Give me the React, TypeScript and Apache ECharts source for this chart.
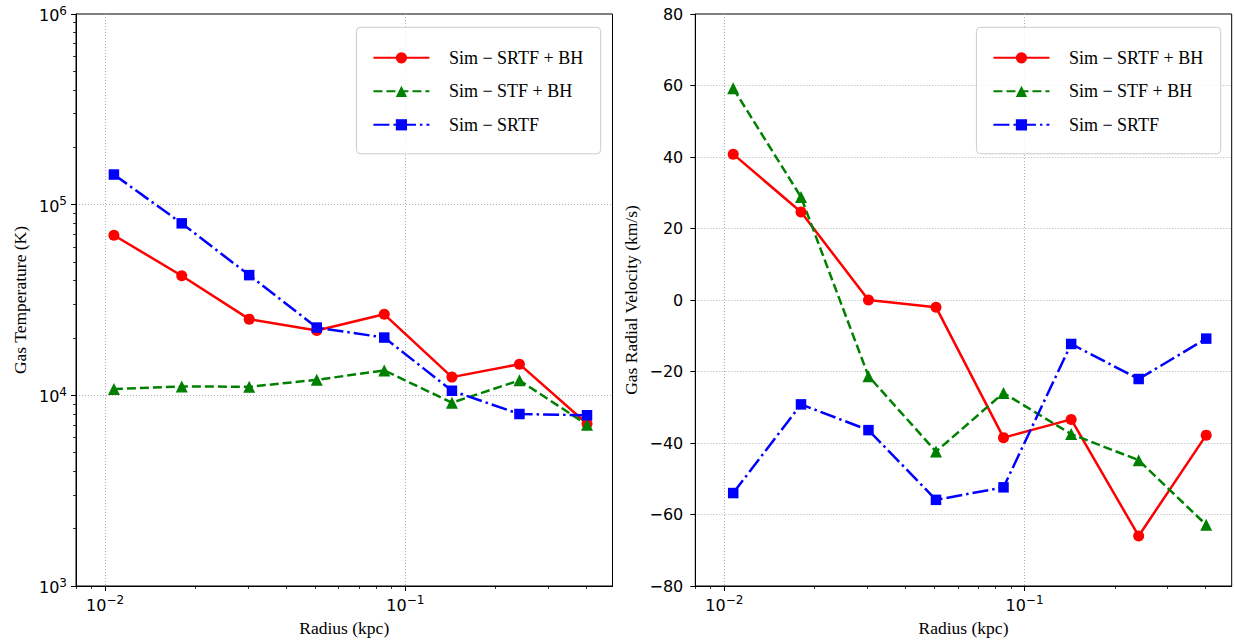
import React, { useEffect, useRef } from 'react';
import * as echarts from 'echarts';

// ---- data ----
const radius = [0.0107, 0.018, 0.0302, 0.0507, 0.0851, 0.143, 0.24, 0.403];
const tempSRTFBH = [69100, 42400, 25100, 21900, 26600, 12460, 14570, 7100];
const tempSTFBH = [10790, 11140, 11090, 12060, 13510, 9150, 11980, 7020];
const tempSRTF = [143900, 79800, 42700, 22670, 20090, 10570, 7980, 7860];
const velSRTFBH = [40.8, 24.6, 0, -2.0, -38.5, -33.4, -66.0, -37.8];
const velSTFBH = [59.2, 28.8, -21.3, -42.4, -26.0, -37.5, -44.8, -62.9];
const velSRTF = [-54.0, -29.2, -36.4, -55.9, -52.4, -12.3, -22.1, -10.8];
const seriesNames = ['Sim − SRTF + BH', 'Sim − STF + BH', 'Sim − SRTF'];

// ---- ticks ----
const xRange = [0.008, 0.49];
const xMajorTicks = [0.01, 0.1];
const xMinorTicks = [0.008, 0.009, 0.02, 0.03, 0.04, 0.05, 0.06, 0.07, 0.08, 0.09, 0.2, 0.3, 0.4];
const tRange = [1000, 1000000];
const tMajorTicks = [1000, 10000, 100000, 1000000];
const tMinorTicks = [
  2000, 3000, 4000, 5000, 6000, 7000, 8000, 9000,
  20000, 30000, 40000, 50000, 60000, 70000, 80000, 90000,
  200000, 300000, 400000, 500000, 600000, 700000, 800000, 900000,
];
const vRange = [-80, 80];
const vInterval = 20;

const COLORS = ['#ff0000', '#008000', '#0000ff'];
const SYMBOLS = ['circle', 'triangle', 'rect'];
const SYMBOL_SIZES = [11, 12, 10.5];
const DASHES: any[] = ['solid', [9, 4], [16, 4, 2.5, 4]];

const TICK_FONT = 'DejaVu Sans';
const SERIF = 'Liberation Serif';

function powLabel(v: number) {
  const e = Math.round(Math.log10(v));
  const s = e < 0 ? '−' + -e : String(e);
  return '{b|10}{s|' + s + '}';
}

const powRich = {
  b: { fontFamily: TICK_FONT, fontSize: 16, color: '#000', padding: [3, 0, 0, 0] },
  s: { fontFamily: TICK_FONT, fontSize: 12, color: '#000', verticalAlign: 'top' },
};

const gridLineStyle = { color: '#b0b0b0', type: [1, 2], width: 1 };
const xGridLine = { show: true, lineStyle: gridLineStyle };
const yGridLine = { show: true, showMinLine: false, showMaxLine: false, lineStyle: gridLineStyle };

const majorTick = (customValues?: number[]) => ({
  show: true,
  inside: false,
  length: 5,
  ...(customValues ? { customValues } : {}),
  lineStyle: { color: '#000', width: 1 },
});
const minorTick = (customValues: number[]) => ({
  show: true,
  inside: false,
  length: 3,
  customValues,
  lineStyle: { color: '#000', width: 0.8 },
});

function mainLogX(gridIndex: number) {
  return {
    type: 'log',
    gridIndex,
    position: 'bottom',
    min: xRange[0],
    max: xRange[1],
    name: 'Radius (kpc)',
    nameLocation: 'middle',
    nameGap: 33,
    nameTextStyle: { fontFamily: SERIF, fontSize: 17.5, color: '#000' },
    axisLine: { show: true, onZero: false, lineStyle: { color: '#000', width: 1 } },
    axisTick: majorTick(xMajorTicks),
    axisLabel: { inside: false, customValues: xMajorTicks, formatter: powLabel, rich: powRich, margin: 8 },
    splitLine: xGridLine,
  };
}

function minorX(gridIndex: number) {
  return {
    type: 'log',
    gridIndex,
    position: 'bottom',
    offset: 0,
    min: xRange[0],
    max: xRange[1],
    axisLine: { show: true, onZero: false, lineStyle: { color: '#000', width: 1 } },
    axisTick: minorTick(xMinorTicks),
    axisLabel: { show: false, customValues: xMinorTicks },
    splitLine: { show: false },
  };
}

function makeSeries(values: number[][], xi: number, yi: number) {
  return values.map((vals, k) => ({
    name: seriesNames[k],
    type: 'line',
    xAxisIndex: xi,
    yAxisIndex: yi,
    data: radius.map((r, i) => [r, vals[i]]),
    symbol: SYMBOLS[k],
    symbolSize: SYMBOL_SIZES[k],
    showAllSymbol: true,
    itemStyle: { color: COLORS[k] },
    lineStyle: { color: COLORS[k], width: 2.5, type: DASHES[k] },
    emphasis: { disabled: true },
  }));
}

function makeLegend(right: number) {
  return {
    orient: 'vertical',
    right,
    top: 27.3,
    data: seriesNames,
    itemWidth: 56,
    itemHeight: 14,
    itemGap: 15.5,
    padding: [21.5, 17.5, 20, 16],
    backgroundColor: 'rgba(255,255,255,0.8)',
    borderColor: '#cccccc',
    borderWidth: 1,
    borderRadius: 4,
    selectedMode: false,
    formatter: (name: string) => '{t|' + name + '}',
    textStyle: {
      rich: {
        t: { fontFamily: SERIF, fontSize: 18, color: '#000', lineHeight: 18, padding: [0, 0, 0, 14.5] },
      },
    },
  };
}

export default function App() {
  const ref = useRef<HTMLDivElement>(null);
  useEffect(() => {
    if (!ref.current) return;
    const chart = echarts.init(ref.current, null, { renderer: 'svg' });
    chart.setOption({
      animation: false,
      backgroundColor: '#ffffff',
      grid: [
        { left: 76, top: 14, width: 536.5, height: 575.3, show: true, borderColor: '#000', borderWidth: 1, containLabel: false },
        { left: 695.3, top: 14, width: 536.4, height: 575.3, show: true, borderColor: '#000', borderWidth: 1, containLabel: false },
      ],
      legend: [makeLegend(1235 - 600.7), makeLegend(1235 - 1220.7)],
      xAxis: [mainLogX(0), minorX(0), mainLogX(1), minorX(1)],
      yAxis: [
        {
          type: 'log',
          gridIndex: 0,
          position: 'left',
          min: tRange[0],
          max: tRange[1],
          name: 'Gas Temperature (K)',
          nameLocation: 'middle',
          nameGap: 47,
          nameTextStyle: { fontFamily: SERIF, fontSize: 17.5, color: '#000' },
          axisLine: { show: true, onZero: false, lineStyle: { color: '#000', width: 1 } },
          axisTick: majorTick(tMajorTicks),
          axisLabel: { inside: false, customValues: tMajorTicks, formatter: powLabel, rich: powRich, margin: 9 },
          splitLine: yGridLine,
        },
        {
          type: 'log',
          gridIndex: 0,
          position: 'left',
          offset: 0,
          min: tRange[0],
          max: tRange[1],
          axisLine: { show: true, onZero: false, lineStyle: { color: '#000', width: 1 } },
          axisTick: minorTick(tMinorTicks),
          axisLabel: { show: false, customValues: tMinorTicks },
          splitLine: { show: false },
        },
        {
          type: 'value',
          gridIndex: 1,
          position: 'left',
          min: vRange[0],
          max: vRange[1],
          interval: vInterval,
          name: 'Gas Radial Velocity (km/s)',
          nameLocation: 'middle',
          nameGap: 55,
          nameTextStyle: { fontFamily: SERIF, fontSize: 17.5, color: '#000' },
          axisLine: { show: true, onZero: false, lineStyle: { color: '#000', width: 1 } },
          axisTick: majorTick(),
          axisLabel: {
            inside: false,
            fontFamily: TICK_FONT,
            fontSize: 16,
            color: '#000',
            margin: 12,
            formatter: (v: number) => (v < 0 ? '−' + -v : String(v)),
          },
          splitLine: yGridLine,
        },
      ],
      series: [
        ...makeSeries([tempSRTFBH, tempSTFBH, tempSRTF], 0, 0),
        ...makeSeries([velSRTFBH, velSTFBH, velSRTF], 2, 2),
      ],
    });
    return () => chart.dispose();
  }, []);
  return (
    <div
      ref={ref}
      style={{ position: 'absolute', left: 0, top: 0, width: 1235, height: 642, background: '#fff' }}
    />
  );
}
